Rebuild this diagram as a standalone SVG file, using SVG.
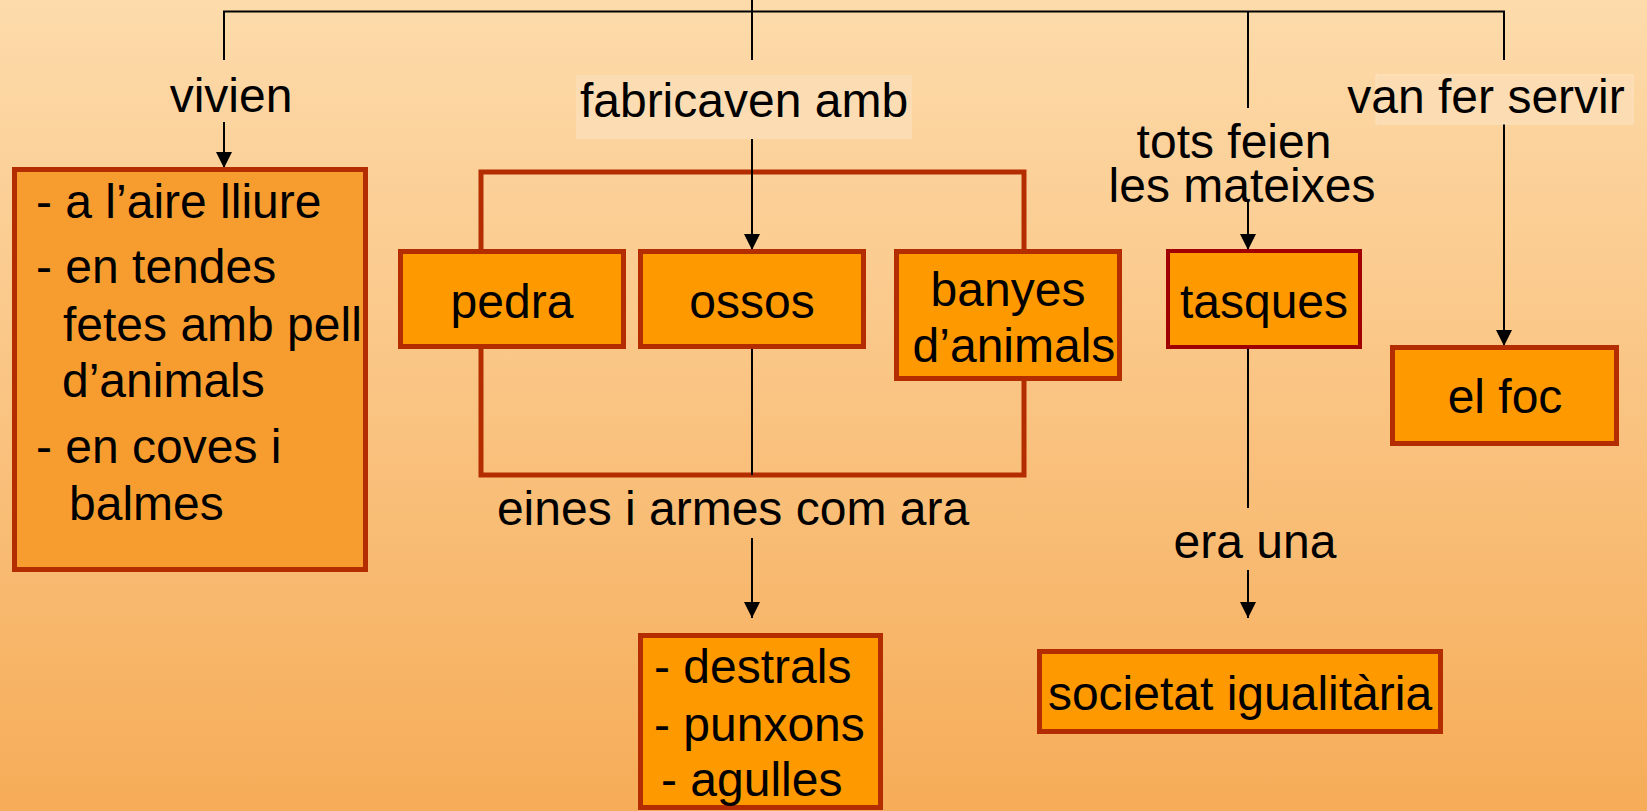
<svg xmlns="http://www.w3.org/2000/svg" width="1647" height="811" viewBox="0 0 1647 811">
  <defs>
    <linearGradient id="bg" x1="0" y1="0" x2="0" y2="1">
      <stop offset="0" stop-color="#FDDBAB"/>
      <stop offset="1" stop-color="#F6AC58"/>
    </linearGradient>
    <marker id="arr" markerUnits="userSpaceOnUse" markerWidth="16" markerHeight="16" refX="16" refY="8" orient="auto">
      <path d="M0,0 L16,8 L0,16 z" fill="#000"/>
    </marker>
    <style>
      text { font-family: "Liberation Sans", Arial, sans-serif; font-size: 48px; fill: #000; }
      .box { fill: #FF9900; stroke: #B32D00; stroke-width: 5; }
      .link { fill: none; stroke: #000; stroke-width: 2; }
      .arrow { fill: none; stroke: #000; stroke-width: 2; marker-end: url(#arr); }
      .bracket { fill: none; stroke: #B32D00; stroke-width: 5; }
      .lbl { fill: #FCDCB2; }
      .mid { text-anchor: middle; }
    </style>
  </defs>
  <rect x="0" y="0" width="1647" height="811" fill="url(#bg)"/>

  <g id="connectors">
    <rect class="bracket" x="481" y="172" width="543" height="303"/>
    <polyline class="link" points="224,60 224,11.5 1504,11.5 1504,60"/>
    <line class="link" x1="752" y1="0" x2="752" y2="60"/>
    <line class="link" x1="1248" y1="11.5" x2="1248" y2="108"/>
    <line class="arrow" x1="224" y1="122" x2="224" y2="168"/>
    <line class="arrow" x1="752" y1="123" x2="752" y2="250"/>
    <line class="arrow" x1="1248" y1="200" x2="1248" y2="250"/>
    <line class="arrow" x1="1504" y1="123" x2="1504" y2="346"/>
    <line class="link" x1="752" y1="349" x2="752" y2="475"/>
    <line class="arrow" x1="752" y1="538" x2="752" y2="618"/>
    <line class="link" x1="1248" y1="349" x2="1248" y2="508"/>
    <line class="arrow" x1="1248" y1="570" x2="1248" y2="618"/>
    <g id="lbl-vivien"><text class="mid" x="231" y="112">vivien</text></g>
    <g id="lbl-fabricaven">
      <rect class="lbl" x="576" y="75" width="336" height="64"/>
      <text class="mid" x="744" y="117">fabricaven amb</text>
    </g>
    <g id="lbl-tots">
      <text class="mid"><tspan x="1234" y="158">tots feien</tspan><tspan x="1242" y="202">les mateixes</tspan></text>
    </g>
    <g id="lbl-van">
      <rect class="lbl" x="1376" y="75" width="257" height="49" stroke="#FDE3C0" stroke-width="1"/>
      <text class="mid" x="1486" y="113">van fer servir</text>
    </g>
    <g id="lbl-eines"><text class="mid" x="733" y="525">eines i armes com ara</text></g>
    <g id="lbl-era"><text class="mid" x="1255" y="558">era una</text></g>
  </g>

  <g id="node-vivien">
    <rect class="box" x="14.5" y="169.5" width="351" height="400" style="fill:#F79D30"/>
    <text x="36" y="218">- a l’aire lliure</text>
    <text x="36" y="283">- en tendes</text>
    <text x="63" y="341">fetes amb pell</text>
    <text x="62" y="397">d’animals</text>
    <text x="36" y="463">- en coves i</text>
    <text x="69" y="520">balmes</text>
  </g>
  <g id="node-pedra">
    <rect class="box" x="400.5" y="251.5" width="223" height="95"/>
    <text class="mid" x="512" y="318">pedra</text>
  </g>
  <g id="node-ossos">
    <rect class="box" x="640.5" y="251.5" width="223" height="95"/>
    <text class="mid" x="752" y="318">ossos</text>
  </g>
  <g id="node-banyes">
    <rect class="box" x="896.5" y="251.5" width="223" height="127"/>
    <text class="mid" x="1008" y="306">banyes</text>
    <text class="mid" x="1014" y="362">d’animals</text>
  </g>
  <g id="node-tasques">
    <rect class="box" x="1168" y="251" width="192" height="96" style="stroke:#A00000;stroke-width:4"/>
    <text class="mid" x="1264" y="318">tasques</text>
  </g>
  <g id="node-foc">
    <rect class="box" x="1392.5" y="347.5" width="224" height="96"/>
    <text class="mid" x="1505" y="413">el foc</text>
  </g>
  <g id="node-eines">
    <rect class="box" x="640.5" y="635.5" width="240" height="172"/>
    <text x="654" y="683">- destrals</text>
    <text x="654" y="741">- punxons</text>
    <text x="661" y="796">- agulles</text>
  </g>
  <g id="node-societat">
    <rect class="box" x="1039.5" y="651.5" width="401" height="80"/>
    <text class="mid" x="1240" y="710">societat igualitària</text>
  </g>
</svg>
